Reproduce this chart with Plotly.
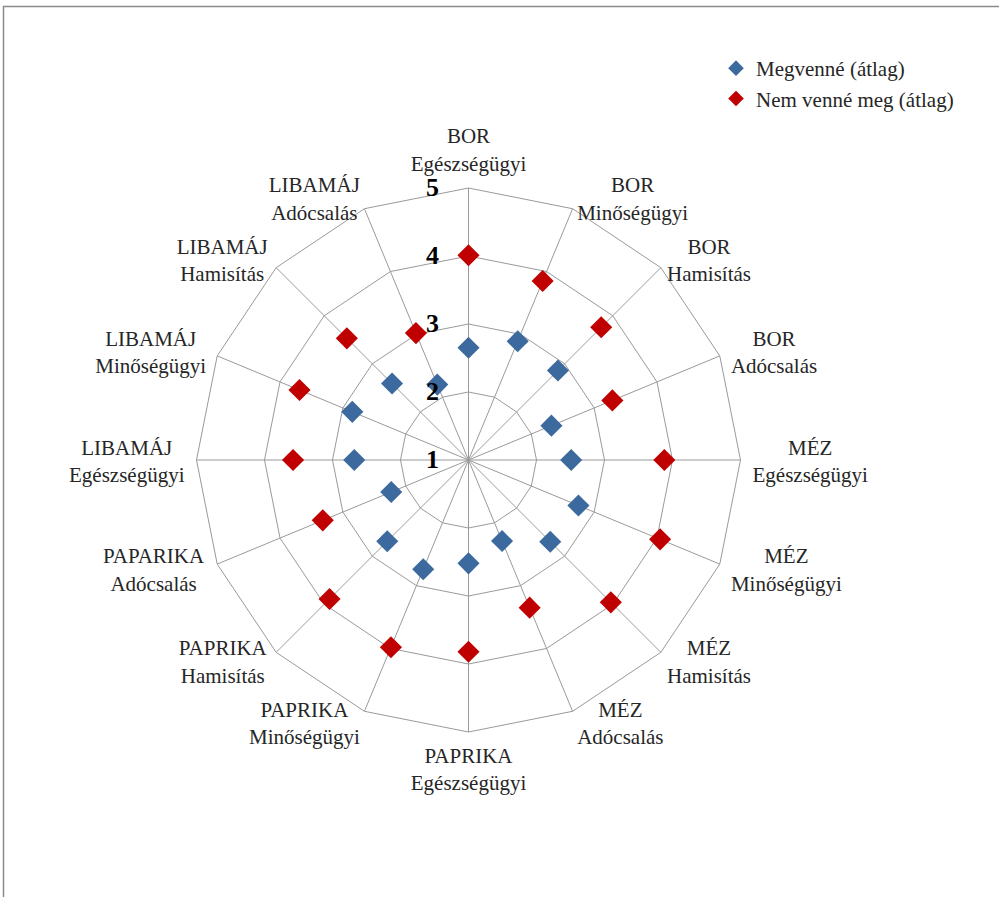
import math
import plotly.graph_objects as go

# Radar chart: average ratings by product and scandal type
categories = [
    "BOR<br>Egészségügyi", "BOR<br>Minőségügyi", "BOR<br>Hamisítás", "BOR<br>Adócsalás",
    "MÉZ<br>Egészségügyi", "MÉZ<br>Minőségügyi", "MÉZ<br>Hamisítás", "MÉZ<br>Adócsalás",
    "PAPRIKA<br>Egészségügyi", "PAPRIKA<br>Minőségügyi", "PAPRIKA<br>Hamisítás", "PAPARIKA<br>Adócsalás",
    "LIBAMÁJ<br>Egészségügyi", "LIBAMÁJ<br>Minőségügyi", "LIBAMÁJ<br>Hamisítás", "LIBAMÁJ<br>Adócsalás",
]
megvenne = [2.65, 2.89, 2.86, 2.32, 2.51, 2.75, 2.70, 2.29,
            2.52, 2.74, 2.69, 2.23, 2.68, 2.85, 2.59, 2.20]
nem_venne_meg = [4.01, 3.85, 3.76, 3.29, 3.88, 4.05, 3.96, 3.35,
                 3.82, 3.98, 3.89, 3.32, 3.58, 3.69, 3.53, 3.02]
series_names = ["Megvenné (átlag)", "Nem venné meg (átlag)"]
radial_ticks = [1, 2, 3, 4, 5]
r_min, r_max = 1, 5

SERIF = "Liberation Serif"
GRID = "#9a9a9a"
TEXT = "#262626"
LABEL_SIZE = 21

W, H = 999, 897
# polar centre and outer radius (pixels, y measured from bottom)
CX, CY = 468.5, 437.0
RADIUS_PX = 272.0
# wider overlay subplot used only for the category labels (radial unit = 1 px)
LABEL_RADIUS_PX = 420.0

# approximate Times-metric glyph widths (em) for centring the category labels
_GLYPH = {
    "A": .722, "B": .667, "E": .611, "I": .333, "J": .389, "K": .722, "L": .611,
    "M": .889, "O": .722, "P": .556, "R": .667, "Z": .611, "É": .611, "Á": .722,
    "a": .444, "c": .444, "d": .5, "e": .444, "g": .5, "i": .278, "l": .278,
    "m": .778, "n": .5, "o": .5, "s": .389, "t": .278, "y": .5, "z": .444,
    "á": .444, "é": .444, "í": .278, "ó": .5, "ő": .5, "ü": .5,
}


def text_width(s, size):
    return sum(_GLYPH.get(ch, .5) for ch in s) * size


def label_position(index, text):
    """(r in px, theta in deg) of a category label centre outside the outer ring."""
    ang = math.radians(index * 360 / len(categories))
    ux, uy = math.sin(ang), math.cos(ang)  # screen right / up
    gap = 12
    ax = (RADIUS_PX + gap) * ux
    ay = (RADIUS_PX + gap) * uy
    lines = text.split("<br>")
    half_w = max(text_width(l, LABEL_SIZE) for l in lines) / 2
    half_h = len(lines) * LABEL_SIZE * 1.3 / 2
    if abs(ux) < 0.2:
        cx, cy = ax, ay + math.copysign(half_h, uy)
    else:
        cx, cy = ax + math.copysign(half_w, ux), ay
    if uy > -0.95:
        cy -= 3  # optical baseline correction for two-line labels
    theta = math.degrees(math.atan2(cx, cy)) % 360
    return math.hypot(cx, cy), theta


label_r, label_theta = zip(*(label_position(i, c) for i, c in enumerate(categories)))


def square_domain(radius):
    return dict(x=[(CX - radius) / W, (CX + radius) / W],
                y=[(CY - radius) / H, (CY + radius) / H])


fig = go.Figure()
for name, vals, color in [
    (series_names[0], megvenne, "#3D6A9E"),
    (series_names[1], nem_venne_meg, "#C00000"),
]:
    fig.add_trace(go.Scatterpolar(
        r=vals, theta=categories, mode="markers", name=name,
        marker=dict(symbol="diamond", size=17, color=color, line=dict(width=0)),
        cliponaxis=False,
    ))

# category labels, centred line by line
fig.add_trace(go.Scatterpolar(
    r=list(label_r), theta=list(label_theta), subplot="polar2",
    mode="text", text=categories, textposition="middle center",
    textfont=dict(family=SERIF, size=LABEL_SIZE, color=TEXT),
    showlegend=False, hoverinfo="skip", cliponaxis=False,
))

fig.update_layout(
    width=W, height=H,
    margin=dict(l=0, r=0, t=0, b=0),
    paper_bgcolor="white",
    font=dict(family=SERIF, size=LABEL_SIZE, color=TEXT),
    polar=dict(
        domain=square_domain(RADIUS_PX),
        bgcolor="white",
        gridshape="linear",
        angularaxis=dict(
            direction="clockwise", rotation=90,
            categoryorder="array", categoryarray=categories,
            showline=True, linecolor=GRID, linewidth=1,
            gridcolor=GRID, gridwidth=1,
            ticks="", showticklabels=False,
        ),
        radialaxis=dict(
            range=[r_min, r_max], tickvals=radial_ticks,
            angle=90, side="counterclockwise",
            showline=False, gridcolor=GRID, gridwidth=1,
            ticks="outside", ticklen=20, tickcolor="rgba(0,0,0,0)",
            tickangle=90,
            tickfont=dict(family=SERIF, size=26, color="black", weight="bold"),
        ),
    ),
    polar2=dict(
        domain=square_domain(LABEL_RADIUS_PX),
        bgcolor="rgba(0,0,0,0)",
        angularaxis=dict(direction="clockwise", rotation=90, visible=False),
        radialaxis=dict(range=[0, LABEL_RADIUS_PX], visible=False),
    ),
    legend=dict(
        x=716 / W, y=1 - 48 / H, xanchor="left", yanchor="top",
        font=dict(family=SERIF, size=21, color=TEXT),
        itemsizing="constant", tracegroupgap=0,
        bgcolor="rgba(0,0,0,0)",
    ),
    shapes=[
        dict(type="rect", xref="paper", yref="paper",
             x0=3.5 / W, x1=1.2, y0=-0.2, y1=1 - 6.5 / H,
             line=dict(color="#8a8a8a", width=1.5)),
    ],
)

fig.write_html("out.html")
